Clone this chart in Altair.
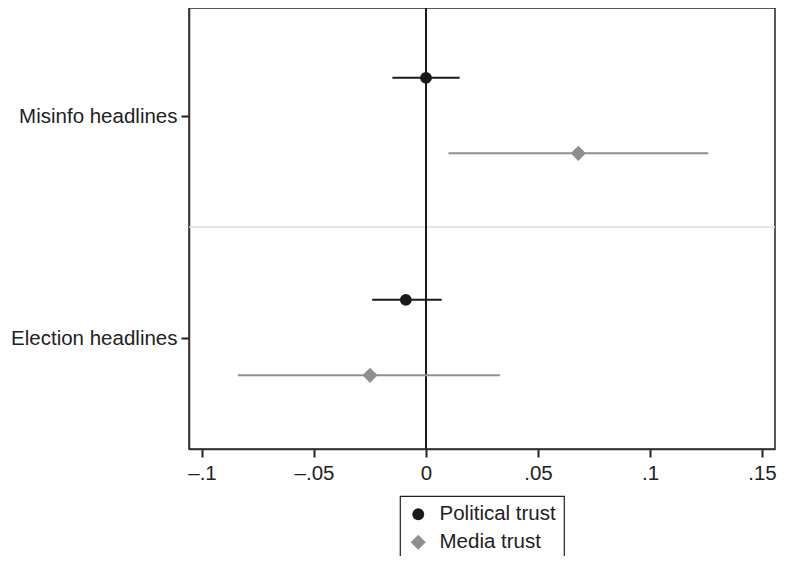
import altair as alt
import pandas as pd

outcomes = ["Misinfo headlines", "Misinfo headlines", "Election headlines", "Election headlines"]
measures = ["Political trust", "Media trust", "Political trust", "Media trust"]
estimates = [0.0, 0.068, -0.009, -0.025]
ci_low = [-0.015, 0.010, -0.024, -0.084]
ci_high = [0.015, 0.126, 0.007, 0.033]

tick_values = [-0.1, -0.05, 0, 0.05, 0.1, 0.15]
tick_labels = ["\u2013.1", "\u2013.05", "0", ".05", ".1", ".15"]

outcome_pos = {"Misinfo headlines": 1, "Election headlines": 0}
measure_off = {"Political trust": 0.172, "Media trust": -0.168}

df = pd.DataFrame({
    "outcome": outcomes,
    "measure": measures,
    "est": estimates,
    "lo": ci_low,
    "hi": ci_high,
})
df["ypos"] = [outcome_pos[o] + measure_off[m] for o, m in zip(outcomes, measures)]

FONT = "Liberation Sans"
FS = 20.5
label_expr = " : ".join(
    [f"datum.value == {v} ? '{l}'" for v, l in zip(tick_values, tick_labels)] + ["''"]
)

xscale = alt.Scale(domain=[-0.1058, 0.1558], nice=False, zero=False)
yscale = alt.Scale(domain=[-0.5, 1.4865], nice=False, zero=False)

order = ["Political trust", "Media trust"]
col_scale = alt.Scale(domain=order, range=["#1a1a1a", "#8f8f8f"])
shape_scale = alt.Scale(domain=order, range=["circle", "diamond"])
size_scale = alt.Scale(domain=order, range=[140, 230])

x_axis = alt.Axis(
    values=tick_values,
    labelExpr=label_expr,
    title=None,
    grid=False,
    tickSize=8,
    tickWidth=2,
    tickColor="#222222",
    domainColor="#333333",
    domainWidth=1.5,
    labelFont=FONT,
    labelFontSize=FS,
    labelColor="#222222",
    labelPadding=6,
)
y_axis = alt.Axis(
    values=[0, 1],
    labelExpr="datum.value == 1 ? 'Misinfo headlines' : (datum.value == 0 ? 'Election headlines' : '')",
    title=None,
    grid=False,
    tickSize=8,
    tickWidth=2,
    tickColor="#222222",
    domainColor="#333333",
    domainWidth=1.5,
    labelFont=FONT,
    labelFontSize=FS,
    labelColor="#222222",
    labelPadding=4,
)

legend = alt.Legend(title=None)

base = alt.Chart(df)

sep = alt.Chart(pd.DataFrame({"y": [0.5]})).mark_rule(color="#dddddd", strokeWidth=1.5).encode(
    y=alt.Y("y:Q", scale=yscale, axis=y_axis)
)
zero = alt.Chart(pd.DataFrame({"x": [0]})).mark_rule(color="#1a1a1a", strokeWidth=2).encode(
    x=alt.X("x:Q", scale=xscale, axis=x_axis)
)

bars = base.mark_rule(strokeWidth=2).encode(
    x=alt.X("lo:Q", scale=xscale, axis=x_axis),
    x2="hi:Q",
    y=alt.Y("ypos:Q", scale=yscale, axis=y_axis),
    color=alt.Color("measure:N", scale=col_scale, legend=legend),
)

pts = base.mark_point(filled=True, opacity=1).encode(
    x=alt.X("est:Q", scale=xscale, axis=x_axis),
    y=alt.Y("ypos:Q", scale=yscale, axis=y_axis),
    color=alt.Color("measure:N", scale=col_scale, legend=legend),
    shape=alt.Shape("measure:N", scale=shape_scale, legend=legend),
    size=alt.Size("measure:N", scale=size_scale, legend=legend),
)

chart = (
    alt.layer(sep, zero, bars, pts)
    .properties(
        width=586,
        height=441,
        autosize=alt.AutoSizeParams(type="none"),
        padding={"left": 181, "top": 0, "right": 2, "bottom": 107},
    )
    .configure_view(stroke="#222222", strokeWidth=1.5)
    .configure_legend(
        orient="none",
        legendX=211,
        legendY=488,
        direction="vertical",
        strokeColor="#222222",
        strokeWidth=1.2,
        fillColor="white",
        padding=8,
        rowPadding=7,
        labelFont=FONT,
        labelFontSize=FS,
        labelColor="#222222",
        labelOffset=11,
        symbolStrokeWidth=0,
    )
)

chart.save("out.html", embed_options={"renderer": "svg", "actions": False})
